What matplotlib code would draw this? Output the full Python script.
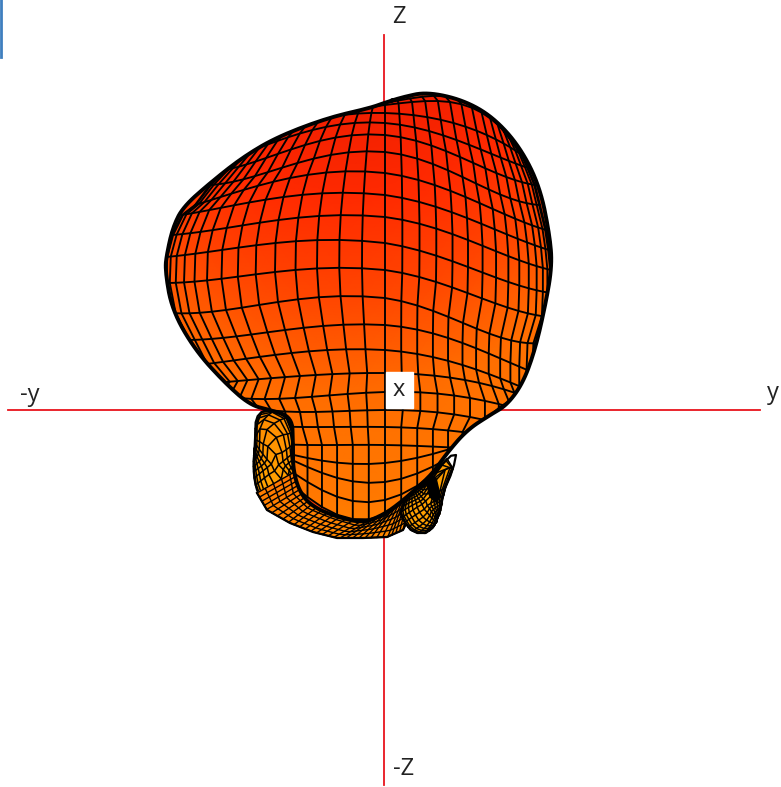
import numpy as np
import matplotlib
matplotlib.use('Agg')
import matplotlib.pyplot as plt
from matplotlib.colors import LinearSegmentedColormap

plt.rcParams['font.family'] = ['Open Sans', 'DejaVu Sans']

# outline of the front surface, clockwise from the z axis
body_x = [384, 403, 427, 463, 493, 520, 540, 550, 552, 545, 535, 523, 507, 490, 467,
          447, 433, 417, 400, 383, 363, 337, 313, 300, 293, 293, 292,
          270, 250, 225, 195, 172, 165, 167, 173, 183, 210, 243, 277, 327, 370]
body_y = [103, 97, 92, 100, 117, 147, 187, 237, 267, 307, 350, 383, 405, 415, 430,
          453, 473, 488, 503, 515, 523, 517, 507, 493, 470, 443, 417,
          410, 405, 383, 350, 310, 270, 253, 227, 207, 183, 157, 137, 118, 108]

# row lines of the mesh: height on the z axis, ends, and height half way to each end
row_y = [103, 105, 113, 123, 135, 152, 173, 195, 217, 243, 270, 298, 325, 350, 373, 392,
         410, 427, 445, 463, 482, 500, 515]
row_left_x = [290, 270, 255, 240, 225, 210, 195, 182, 172, 166, 165, 171, 185, 198, 215, 205,
              215, 220, 230, 230, 230, 230, 230]
row_left_y = [127, 138, 146, 155, 170, 185, 205, 215, 235, 257, 283, 313, 340, 365, 383, 392,
              395, 420, 435, 440, 440, 440, 440]
row_left_half = [112, 113, 119, 130, 145, 163, 178, 197, 220, 243, 272, 302, 330, 353, 376, 398,
                 412, 427, 445, 458, 467, 482, 497]
row_right_x = [505, 515, 522, 528, 535, 540, 546, 549, 551, 551, 550, 541, 540, 540, 545, 555,
               555, 540, 540, 540, 540, 540, 540]
row_right_y = [133, 145, 155, 168, 185, 205, 230, 250, 270, 293, 317, 343, 375, 395, 405, 420,
               440, 445, 445, 425, 420, 410, 400]
row_right_half = [96, 102, 123, 140, 157, 177, 197, 218, 240, 267, 293, 323, 343, 365, 380, 398,
                  417, 432, 448, 445, 450, 450, 445]
lon_deg = [-90, -84, -78, -72, -66, -60, -54, -48, -42, -36, -30, -24, -18, -12, -6, 0,
           6, 12, 18, 24, 30, 36, 42, 48, 54, 60, 66, 72, 78, 84, 90]

# rear lobes
left_lobe_x = [256, 285, 295, 296, 300, 290, 267, 257, 253, 255]
left_lobe_y = [410, 410, 440, 470, 490, 510, 505, 493, 470, 443]
band_outer_x = [257, 267, 290, 313, 337, 363, 387, 403, 410]
band_outer_y = [493, 510, 523, 532, 538, 538, 537, 530, 515]
band_inner_x = [298, 300, 313, 337, 363, 385, 400, 410, 415]
band_inner_y = [470, 490, 505, 515, 523, 516, 505, 497, 490]
right_lobe_x = [433, 457, 453, 443, 440, 430, 413, 403, 400, 410, 427]
right_lobe_y = [473, 450, 470, 493, 513, 533, 533, 520, 510, 493, 483]
blob_x = [431, 436, 440, 437, 430, 427]
blob_y = [476, 478, 495, 503, 497, 485]

colour_pos = [0, 0.19, 0.38, 0.58, 0.77, 1]
colour_val = ['#f01e00', '#ff2a00', '#ff4600', '#ff6e00', '#ff7800', '#ffa000']
cmap = LinearSegmentedColormap.from_list('gain', list(zip(colour_pos, colour_val)))


def smooth_loop(x, y, passes=3):
    # corner cutting so the read outline is not a polygon
    p = np.column_stack([x, y]).astype(float)
    for _ in range(passes):
        q = np.roll(p, -1, axis=0)
        p = np.column_stack([0.75 * p + 0.25 * q, 0.25 * p + 0.75 * q]).reshape(-1, 2)
    return p[:, 0], p[:, 1]


def body_mesh():
    s = np.sin(np.radians(lon_deg))
    knots = [-1, -0.5, 0, 0.5, 1]
    ys = np.array([row_left_y, row_left_half, row_y, row_right_half, row_right_y], float)
    coef = np.polyfit(knots, ys, 4)
    y = np.array([np.polyval(coef[:, i], s) for i in range(len(row_y))])
    left = np.array(row_left_x, float)[:, None]
    right = np.array(row_right_x, float)[:, None]
    x = 385 + np.where(s < 0, -s * (left - 385), s * (right - 385))
    return x, y


def disc_mesh(ox, oy, cx, cy, lat_step, lon_step, turn):
    ox, oy = np.array(ox, float), np.array(oy, float)
    ang = np.arctan2(cy - oy, ox - cx)
    rad = np.hypot(ox - cx, oy - cy)
    order = np.argsort(ang)
    lat = np.radians(np.arange(-90, 91, lat_step))[:, None]
    lon = np.radians(np.arange(-90, 91, lon_step))[None, :]
    u = np.cos(lat) * np.sin(lon)
    v = np.sin(lat) * np.ones_like(u)
    c, s = np.cos(turn), np.sin(turn)
    u, v = c * u - s * v, s * u + c * v
    b = np.arctan2(v, u)
    rho = np.hypot(u, v)
    r = np.interp(b, ang[order], rad[order], period=2 * np.pi)
    return cx + rho * r * np.cos(b), cy - rho * r * np.sin(b)


def band_mesh(n_rows, n_cols):
    t = np.linspace(0, 1, n_cols)
    k = np.linspace(0, 1, len(band_outer_x))
    ox, oy = np.interp(t, k, band_outer_x), np.interp(t, k, band_outer_y)
    ix, iy = np.interp(t, k, band_inner_x), np.interp(t, k, band_inner_y)
    f = np.linspace(0, 1, n_rows)[:, None]
    return ix + f * (ox - ix), iy + f * (oy - iy)


def shade(x, y):
    return (y - 100) / 520 + 0.16 * ((x - 340) / 200) ** 2


def surface(x, y, z, lw=1.2, extra=0.0, clip=None):
    mesh = plt.pcolormesh(x, y, shade(x, y) + extra, shading='gouraud', cmap=cmap, vmin=0, vmax=1, zorder=z)
    lines = plt.plot(x, y, color='black', lw=lw, zorder=z + 0.1)
    lines += plt.plot(x.T, y.T, color='black', lw=lw, zorder=z + 0.1)
    if clip is not None:
        mesh.set_clip_path(clip)
        for line in lines:
            line.set_clip_path(clip)


fig = plt.figure(figsize=(7.81, 7.87), dpi=100)
ax = fig.add_axes([0, 0, 1, 1])
ax.set_xlim(0, 781)
ax.set_ylim(787, 0)
ax.axis('off')

# axis cross and the bit of window border top left
ax.plot([384, 384], [35, 785], color='#e8141c', lw=1.3, zorder=1)
ax.plot([8, 760], [410, 410], color='#e8141c', lw=1.3, zorder=1)
ax.plot([1, 1], [0, 57], color='#3f7fbf', lw=2, zorder=1)

sx, sy = smooth_loop(left_lobe_x, left_lobe_y, 2)
lx, ly = disc_mesh(sx, sy, 275, 465, 14, 14, 0.7)
surface(lx, ly, 2, lw=1.1, extra=0.25)
ax.plot(np.r_[sx, sx[0]], np.r_[sy, sy[0]], color='black', lw=1.6, zorder=2.2)

dx, dy = band_mesh(6, 34)
surface(dx, dy, 2.5, lw=1.0, extra=0.02)
ax.plot(band_outer_x, band_outer_y, color='black', lw=1.6, zorder=2.7)

sx, sy = smooth_loop(right_lobe_x, right_lobe_y, 1)
rx, ry = disc_mesh(sx, sy, 425, 505, 12, 12, 0.6)
surface(rx, ry, 3, lw=1.1, extra=0.22)
ax.plot(np.r_[sx, sx[0]], np.r_[sy, sy[0]], color='black', lw=1.6, zorder=3.2)
ax.fill(blob_x, blob_y, color='black', zorder=3.3)

ox, oy = smooth_loop(body_x, body_y)
back = ax.fill(ox, oy, color='#ff3c00', zorder=3.8)[0]
bx, by = body_mesh()
surface(bx, by, 4, lw=1.35, clip=back)
ax.plot(np.r_[ox, ox[0]], np.r_[oy, oy[0]], color='black', lw=2.8, zorder=5)

# axis names
font = 17
ax.text(399, 17, 'Z', fontsize=font, ha='center', va='center', color='#222222')
ax.text(30, 395, '-y', fontsize=font, ha='center', va='center', color='#222222')
ax.text(773, 393, 'y', fontsize=font, ha='center', va='center', color='#222222')
ax.text(404, 769, '-Z', fontsize=font, ha='center', va='center', color='#222222')
ax.fill([386, 413, 413, 386], [372, 372, 408, 408], color='white', zorder=6)
ax.text(399, 390, 'x', fontsize=font, ha='center', va='center', color='#222222', zorder=7)

plt.savefig('out.png', dpi=100)
